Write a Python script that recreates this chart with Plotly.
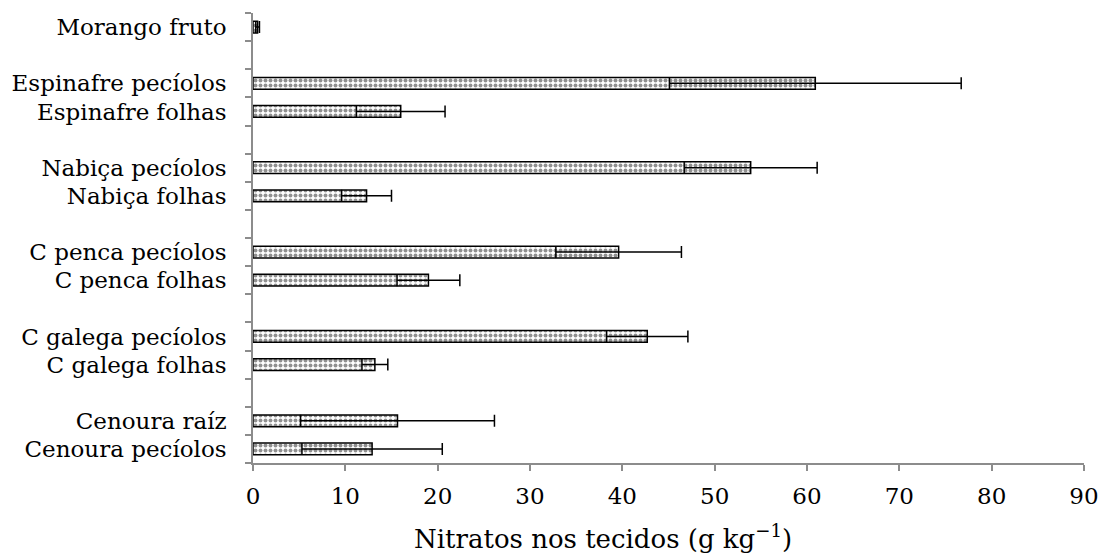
import plotly.graph_objects as go

# Nitrate content per tissue (mean and standard deviation, g kg-1)
tecidos = [
    "Cenoura pecíolos", "Cenoura raíz",
    "C galega folhas", "C galega pecíolos",
    "C penca folhas", "C penca pecíolos",
    "Nabiça folhas", "Nabiça pecíolos",
    "Espinafre folhas", "Espinafre pecíolos",
    "Morango fruto",
]
media = [12.9, 15.65, 13.2, 42.7, 19.0, 39.6, 12.3, 53.9, 16.0, 60.9, 0.5]
desvio = [7.6, 10.5, 1.4, 4.4, 3.4, 6.8, 2.7, 7.2, 4.8, 15.8, 0.2]

# Axis order from bottom to top, with blank spacer rows between crops
ordem_eixo = [
    "Cenoura pecíolos", "Cenoura raíz", " ",
    "C galega folhas", "C galega pecíolos", "  ",
    "C penca folhas", "C penca pecíolos", "   ",
    "Nabiça folhas", "Nabiça pecíolos", "    ",
    "Espinafre folhas", "Espinafre pecíolos", "     ",
    "Morango fruto",
]
x_ticks = [0, 10, 20, 30, 40, 50, 60, 70, 80, 90]

serif = "DejaVu Serif"
cinza = "#8c8c8c"

fig = go.Figure(
    go.Bar(
        y=tecidos,
        x=media,
        orientation="h",
        width=0.42,
        marker=dict(
            color="white",
            line=dict(color="black", width=1.5),
            pattern=dict(shape=".", fgcolor="#222222", bgcolor="white",
                         size=5, solidity=0.5),
        ),
        error_x=dict(type="data", array=desvio, symmetric=True,
                     color="black", thickness=1.5, width=6),
        showlegend=False,
    )
)

fig.update_layout(
    width=1100,
    height=554,
    margin=dict(l=253, r=16, t=13, b=91, autoexpand=False),
    paper_bgcolor="white",
    plot_bgcolor="white",
    font=dict(family=serif, size=23, color="black"),
    bargap=0.58,
)

fig.update_xaxes(
    range=[0, 90],
    tickmode="array",
    tickvals=x_ticks,
    ticktext=[str(v) for v in x_ticks],
    automargin=False,
    showgrid=False,
    zeroline=False,
    showline=True,
    linecolor=cinza,
    linewidth=1.5,
    ticks="outside",
    ticklen=6,
    tickwidth=1.5,
    tickcolor=cinza,
    tickfont=dict(family=serif, size=23, color="black"),
    ticklabelstandoff=6,
)

fig.update_yaxes(
    type="category",
    categoryorder="array",
    categoryarray=ordem_eixo,
    range=[-0.5, len(ordem_eixo) - 0.5],
    tickmode="linear",
    tick0=0,
    dtick=1,
    automargin=False,
    tickson="boundaries",
    showgrid=False,
    zeroline=False,
    showline=True,
    linecolor=cinza,
    linewidth=1.5,
    ticks="outside",
    ticklen=6,
    tickwidth=1.5,
    tickcolor=cinza,
    tickfont=dict(family=serif, size=23, color="black"),
    ticklabelstandoff=20,
)

# Horizontal axis title
fig.add_annotation(
    text="Nitratos nos tecidos (g kg<sup>−1</sup>)",
    xref="paper", yref="paper",
    x=0.421, y=0,
    xanchor="center", yanchor="middle",
    yshift=-74,
    showarrow=False,
    font=dict(family=serif, size=26, color="black"),
)

fig.write_html("out.html")
